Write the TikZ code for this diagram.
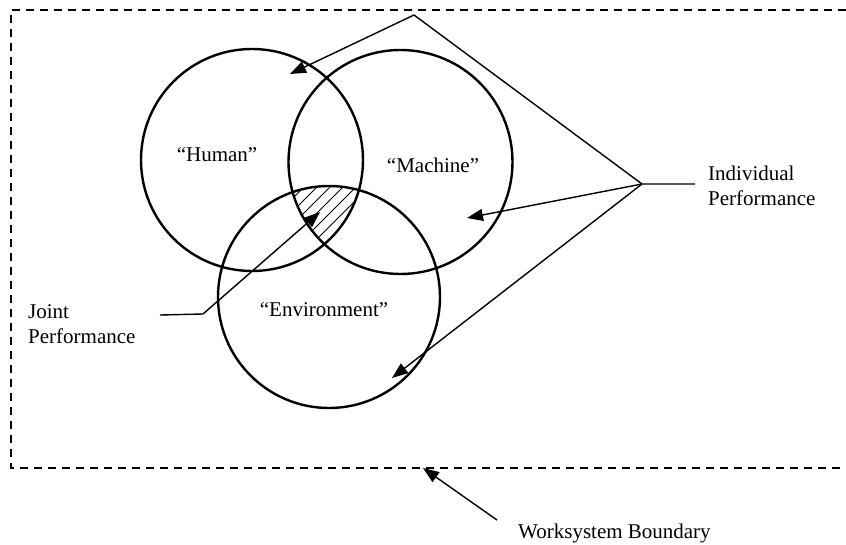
\documentclass[tikz,border=0pt]{standalone}
\usepackage{fontspec}
\setmainfont{Liberation Serif}
\usetikzlibrary{arrows.meta}
\begin{document}
\begin{tikzpicture}[x=1pt,y=-1pt,
  vc/.style={circle, draw, line width=2.4pt, inner sep=0pt},
  conn/.style={line width=1.4pt},
  arr/.style={conn,-{Triangle[length=16pt,width=12pt]}},
  hatch/.style={line width=0.9pt},
  lbl/.style={font=\fontsize{21}{25}\selectfont, inner sep=0pt},
  bound/.style={line width=2pt, dash pattern=on 8pt off 6pt}]
\useasboundingbox (0,0) rectangle (846,545);
% boundary
\draw[bound] (846,10) -- (11,10) -- (11,468) -- (846,468);
% hatched joint region
\begin{scope}
  \clip (252,160) circle[radius=111pt];
  \clip (400.5,162) circle[radius=112pt];
  \clip (329,297) circle[radius=111pt];
  \foreach \k in {0,...,11} \draw[hatch] (226+13*\k,252) -- ++(80,-80);
\end{scope}
% circles
\node[vc, minimum size=222pt] (human) at (252,160) {};
\node[vc, minimum size=224pt] (machine) at (400.5,162) {};
\node[vc, minimum size=222pt] (env) at (329,297) {};
% labels
\node[lbl] (humanL) at (217,155) {“Human”};
\node[lbl] (machineL) at (433,165) {“Machine”};
\node[lbl] (envL) at (324,310) {“Environment”};
\node[lbl, anchor=west, align=left] (indL) at (708,186) {Individual\\Performance};
\node[lbl, anchor=west, align=left] (jointL) at (28,324) {Joint\\Performance};
\node[lbl, anchor=west] (wsL) at (518,533) {Worksystem Boundary};
% connector points
\coordinate (apex) at (414,15);
\coordinate (junc) at (642,184);
\coordinate (iEnd) at (695,184);
\coordinate (hTip) at (290,74);
\coordinate (mTip) at (467,218);
\coordinate (eTip) at (392,378);
\coordinate (jStart) at (160,315);
\coordinate (jBend) at (203,314);
\coordinate (jTip) at (320,212);
\coordinate (wTail) at (497,520);
\coordinate (wTip) at (423,468);
% individual performance connectors
\draw[conn] (iEnd) -- (junc) -- (apex);
\draw[arr] (apex) -- (hTip);
\draw[arr] (junc) -- (mTip);
\draw[arr] (junc) -- (eTip);
% joint performance
\draw[arr] (jStart) -- (jBend) -- (jTip);
% worksystem boundary
\draw[arr] (wTail) -- (wTip);
\end{tikzpicture}
\end{document}
